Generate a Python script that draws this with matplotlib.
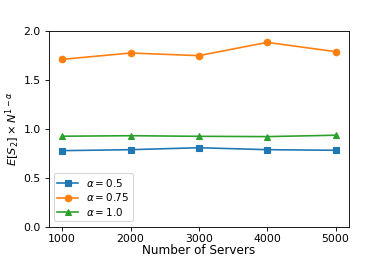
import matplotlib
matplotlib.use("Agg")
import matplotlib.pyplot as plt

servers = [1000, 2000, 3000, 4000, 5000]
alpha_05 = [0.778, 0.788, 0.808, 0.788, 0.782]
alpha_075 = [1.713, 1.778, 1.751, 1.887, 1.792]
alpha_10 = [0.926, 0.931, 0.925, 0.922, 0.936]
yticks = [0.0, 0.5, 1.0, 1.5, 2.0]

DPI = 78.6
fig = plt.figure(figsize=(388/DPI, 259/DPI), dpi=DPI)
ax = fig.add_axes([0.125, 0.125, 0.775, 0.754])
ax.plot(servers, alpha_05, marker='s', label=r'$\alpha = 0.5$')
ax.plot(servers, alpha_075, marker='o', label=r'$\alpha = 0.75$')
ax.plot(servers, alpha_10, marker='^', label=r'$\alpha = 1.0$')
ax.set_ylim(0, 2.0)
ax.set_yticks(yticks)
ax.set_xticks(servers)
ax.set_xlabel('Number of Servers', fontsize=11, labelpad=0)
ax.set_ylabel(r'$E[S_2] \times N^{1-\alpha}$', fontsize=10.5)
ax.yaxis.set_label_coords(-0.088, 0.5)
ax.legend(loc='lower left', fontsize=9.5, labelspacing=0.25, handlelength=2.0,
          borderpad=0.35)
fig.savefig('out.png', dpi=DPI)
